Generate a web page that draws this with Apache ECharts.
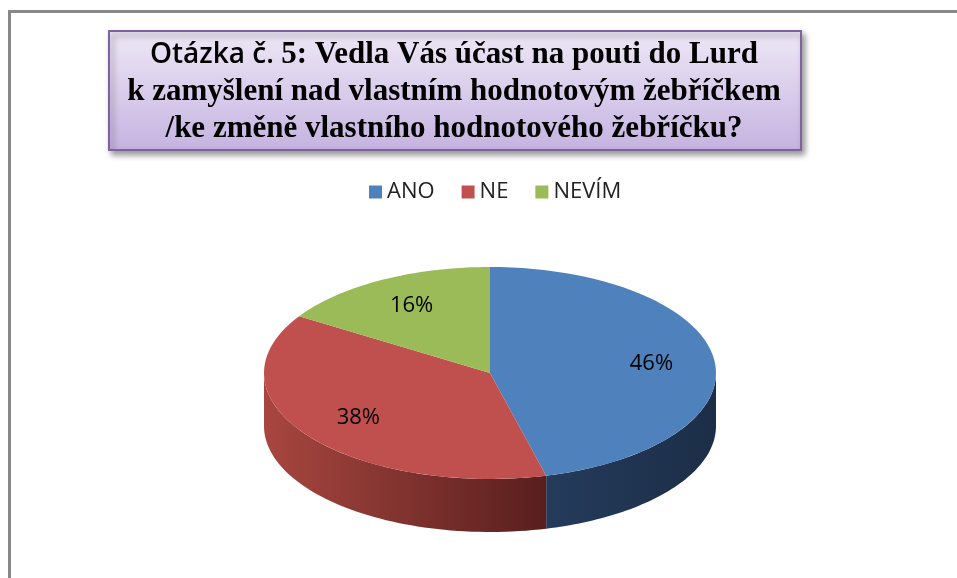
<!DOCTYPE html>
<html>
<head>
<meta charset="utf-8">
<script src="https://cdn.jsdelivr.net/npm/echarts@6/dist/echarts.min.js"></script>
<style>
  html, body { margin: 0; padding: 0; background: #fff; }
  #chart { width: 957px; height: 578px; }
</style>
</head>
<body>
<div id="chart"></div>
<script>
// data
const categories = ['ANO', 'NE', 'NEVÍM'];
const shares = [46, 38, 16];

const topColors = ['#4F81BD', '#C0504D', '#9BBB59'];
const sideColors = [['#243b5b', '#1c2e47'], ['#a8463f', '#581f1e'], ['#7a9446', '#5e7335']];
const depth = 0.5;

const total = shares.reduce(function (a, b) { return a + b; }, 0);

function sliceRender(i) {
  return function (params, api) {
    let before = 0;
    for (let k = 0; k < i; k++) before += shares[k];
    const a0 = before / total * Math.PI * 2;
    const a1 = (before + shares[i]) / total * Math.PI * 2;
    const pt = function (t, r, drop) {
      return api.coord([r * Math.sin(t), r * Math.cos(t) - drop]);
    };
    const steps = 60;
    const children = [];

    // visible side (front half of the disc)
    const s0 = Math.max(a0, Math.PI / 2);
    const s1 = Math.min(a1, Math.PI * 1.5);
    if (s1 > s0) {
      const side = [];
      for (let j = 0; j <= steps; j++) side.push(pt(s0 + (s1 - s0) * j / steps, 1, 0));
      for (let j = steps; j >= 0; j--) side.push(pt(s0 + (s1 - s0) * j / steps, 1, depth));
      children.push({
        type: 'polygon',
        shape: { points: side },
        style: {
          fill: new echarts.graphic.LinearGradient(0, 0, 1, 0, [
            { offset: 0, color: sideColors[i][0] },
            { offset: 1, color: sideColors[i][1] }
          ])
        }
      });
    }

    // top face
    const top = [pt(0, 0, 0)];
    for (let j = 0; j <= steps; j++) top.push(pt(a0 + (a1 - a0) * j / steps, 1, 0));
    children.push({
      type: 'polygon',
      shape: { points: top },
      style: { fill: topColors[i] }
    });

    // label
    const mid = (a0 + a1) / 2;
    const lp = pt(mid, 0.72, 0);
    children.push({
      type: 'text',
      x: lp[0],
      y: lp[1],
      style: {
        text: Math.round(shares[i] / total * 100) + '%',
        fill: '#000',
        font: '22px "Open Sans"',
        align: 'center',
        verticalAlign: 'middle'
      }
    });
    return { type: 'group', children: children };
  };
}

const chart = echarts.init(document.getElementById('chart'));

chart.setOption({
  animation: false,
  color: topColors,
  graphic: [
    {
      type: 'group',
      children: [
        {
          type: 'line',
          shape: { x1: 9.5, y1: 578, x2: 9.5, y2: 11.5 },
          style: { stroke: '#888', lineWidth: 3 }
        },
        {
          type: 'line',
          shape: { x1: 8, y1: 11.5, x2: 957, y2: 11.5 },
          style: { stroke: '#888', lineWidth: 3 }
        }
      ]
    },
    {
      type: 'rect',
      shape: { x: 109, y: 31, width: 692, height: 119 },
      style: {
        fill: new echarts.graphic.LinearGradient(0, 0, 0, 1, [
          { offset: 0, color: '#EEE8F6' },
          { offset: 1, color: '#C5B3E0' }
        ]),
        stroke: '#7E62A0',
        lineWidth: 2,
        shadowBlur: 6,
        shadowOffsetX: 3,
        shadowOffsetY: 4,
        shadowColor: 'rgba(0,0,0,0.4)'
      }
    },
    {
      type: 'text',
      x: 454,
      y: 92,
      style: {
        text: '{s|Otázka č. }{b|5: Vedla Vás účast na pouti do Lurd}\n{b|k zamyšlení nad vlastním hodnotovým žebříčkem}\n{b|/ke změně vlastního hodnotového žebříčku?}',
        align: 'center',
        verticalAlign: 'middle',
        rich: {
          s: { font: '600 28px "Open Sans"', fill: '#000', lineHeight: 37 },
          b: { font: 'bold 31px "Liberation Serif"', fill: '#000', lineHeight: 37 }
        }
      }
    }
  ],
  legend: {
    top: 176,
    left: 364,
    icon: 'rect',
    itemWidth: 13,
    itemHeight: 13,
    itemGap: 27,
    selectedMode: false,
    textStyle: { fontFamily: 'Open Sans', fontSize: 22, color: '#222' },
    data: categories
  },
  grid: { left: 264, width: 452, top: 267, height: 265 },
  xAxis: { type: 'value', min: -1, max: 1, show: false },
  yAxis: { type: 'value', min: -1 - depth, max: 1, show: false },
  series: categories.map(function (name, i) {
    return {
      type: 'custom',
      name: name,
      coordinateSystem: 'cartesian2d',
      renderItem: sliceRender(i),
      itemStyle: { color: topColors[i] },
      data: [[0, 0, shares[i]]],
      silent: true
    };
  })
});
</script>
</body>
</html>
